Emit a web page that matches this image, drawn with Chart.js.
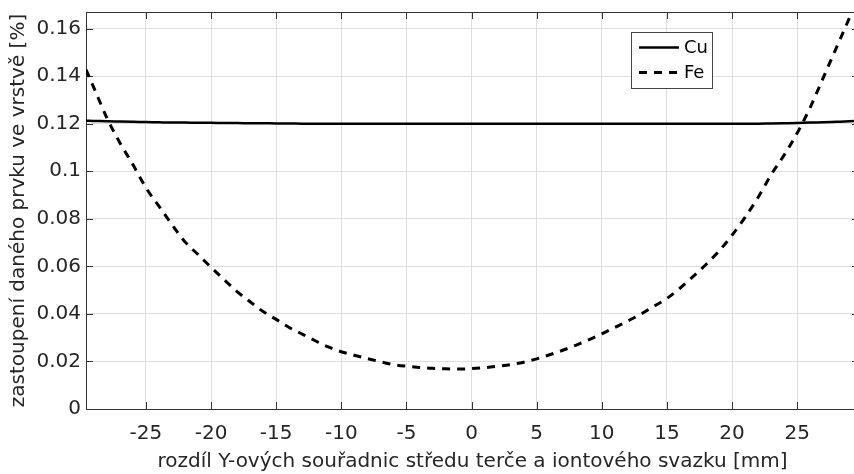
<!DOCTYPE html>
<html>
<head>
<meta charset="utf-8">
<script src="https://cdn.jsdelivr.net/npm/chart.js@4/dist/chart.umd.min.js"></script>
<style>
  html, body { margin: 0; padding: 0; background: #fff; overflow: hidden; }
  #wrap { width: 860px; height: 474px; }
</style>
</head>
<body>
<div id="wrap"><canvas id="c" width="860" height="474"></canvas></div>
<script>
// Offset of the target centre from the ion beam centre along Y [mm]
const offsets = [-29.6, -29, -28, -27, -26, -25, -24, -23, -22, -21, -20, -19, -18, -17, -16, -15,
  -14, -13, -12, -11, -10, -9, -8, -7, -6, -5, -4, -3, -2, -1, 0, 1, 2, 3, 4, 5, 6, 7, 8, 9,
  10, 11, 12, 13, 14, 15, 16, 17, 18, 19, 20, 21, 22, 23, 24, 25, 26, 27, 28, 29, 29.75];

// Share of copper in the deposited layer [%]
const cuShare = [0.1213, 0.1212, 0.1210, 0.1209, 0.1208, 0.1207, 0.1206, 0.1205, 0.1205, 0.1204,
  0.1204, 0.1203, 0.1203, 0.1202, 0.1202, 0.1201, 0.1201, 0.1200, 0.1200, 0.1200,
  0.1200, 0.1200, 0.1200, 0.1200, 0.1200, 0.1200, 0.1200, 0.1200, 0.1200, 0.1200,
  0.1200, 0.1200, 0.1200, 0.1200, 0.1200, 0.1200, 0.1200, 0.1200, 0.1200, 0.1200,
  0.1200, 0.1200, 0.1200, 0.1200, 0.1200, 0.1200, 0.1200, 0.1200, 0.1200, 0.1200,
  0.1200, 0.1200, 0.1200, 0.1201, 0.1202, 0.1203, 0.1205, 0.1206, 0.1208, 0.1210, 0.1212];

// Share of iron in the deposited layer [%]
const feShare = [0.1428, 0.1352, 0.1225, 0.1120, 0.1028, 0.0931, 0.0853, 0.0776, 0.0703, 0.0650,
  0.0596, 0.0544, 0.0494, 0.0451, 0.0410, 0.0377, 0.0343, 0.0315, 0.0287, 0.0261,
  0.0241, 0.0226, 0.0212, 0.0199, 0.0187, 0.0180, 0.0175, 0.0171, 0.0169, 0.0168,
  0.0170, 0.0174, 0.0180, 0.0187, 0.0197, 0.0211, 0.0228, 0.0247, 0.0268, 0.0291,
  0.0316, 0.0343, 0.0370, 0.0399, 0.0432, 0.0465, 0.0508, 0.0557, 0.0608, 0.0664,
  0.0731, 0.0806, 0.0890, 0.0985, 0.1068, 0.1160, 0.1268, 0.1393, 0.1518, 0.1643, 0.1740];

const xTicks = [-25, -20, -15, -10, -5, 0, 5, 10, 15, 20, 25];
const yTicks = [0, 0.02, 0.04, 0.06, 0.08, 0.1, 0.12, 0.14, 0.16];

const seriesNames = ['Cu', 'Fe'];
const xTitle = 'rozdíl Y-ových souřadnic středu terče a iontového svazku [mm]';
const yTitle = 'zastoupení daného prvku ve vrstvě [%]';

const FONT = 'DejaVu Sans';
const INK = '#262626';
const AXIS = '#333333';
const GRID = '#dfdfdf';

// Box round the plot (top and right edges) plus inward tick marks on all four sides
const frame = {
  id: 'frame',
  beforeDatasetsDraw(chart) {
    const { ctx, chartArea: a, scales } = chart;
    const t = 7;
    ctx.save();
    ctx.strokeStyle = AXIS;
    ctx.lineWidth = 1;
    ctx.beginPath();
    ctx.moveTo(a.left, Math.round(a.top) + 0.5);
    ctx.lineTo(a.right, Math.round(a.top) + 0.5);
    ctx.moveTo(Math.round(a.right) - 0.5, a.top);
    ctx.lineTo(Math.round(a.right) - 0.5, a.bottom);
    xTicks.forEach(v => {
      const px = Math.round(scales.x.getPixelForValue(v)) + 0.5;
      ctx.moveTo(px, a.bottom); ctx.lineTo(px, a.bottom - t);
      ctx.moveTo(px, a.top); ctx.lineTo(px, a.top + t);
    });
    yTicks.forEach(v => {
      const py = Math.round(scales.y.getPixelForValue(v)) + 0.5;
      ctx.moveTo(a.left, py); ctx.lineTo(a.left + t, py);
      ctx.moveTo(a.right, py); ctx.lineTo(a.right - t, py);
    });
    ctx.stroke();
    ctx.restore();
  }
};

// Boxed legend in the upper right part of the plot
const boxLegend = {
  id: 'boxLegend',
  afterDraw(chart) {
    const { ctx, chartArea: a } = chart;
    const bx = a.left + 545, by = a.top + 20, bw = 81, bh = 56;
    ctx.save();
    ctx.fillStyle = '#fff';
    ctx.fillRect(bx, by, bw, bh);
    ctx.strokeStyle = '#444';
    ctx.lineWidth = 1;
    ctx.strokeRect(bx + 0.5, by + 0.5, bw, bh);
    chart.data.datasets.forEach((ds, i) => {
      const yy = by + 15.5 + i * 25;
      ctx.beginPath();
      ctx.strokeStyle = ds.borderColor;
      ctx.lineWidth = ds.borderWidth;
      ctx.setLineDash(ds.legendDash || []);
      ctx.moveTo(bx + 8, yy);
      ctx.lineTo(bx + 48, yy);
      ctx.stroke();
      ctx.setLineDash([]);
      ctx.fillStyle = '#000';
      ctx.font = '18px "' + FONT + '"';
      ctx.textBaseline = 'middle';
      ctx.textAlign = 'left';
      ctx.fillText(ds.label, bx + 53, yy + 1);
    });
    ctx.restore();
  }
};

new Chart(document.getElementById('c'), {
  type: 'line',
  data: {
    labels: offsets,
    datasets: [
      {
        label: seriesNames[0],
        data: offsets.map((x, i) => ({ x, y: cuShare[i] })),
        borderColor: '#000',
        borderWidth: 2.5,
        pointRadius: 0,
        cubicInterpolationMode: 'monotone'
      },
      {
        label: seriesNames[1],
        data: offsets.map((x, i) => ({ x, y: feShare[i] })),
        borderColor: '#000',
        borderWidth: 3,
        borderDash: [8, 7],
        legendDash: [8, 7],
        pointRadius: 0,
        cubicInterpolationMode: 'monotone'
      }
    ]
  },
  options: {
    responsive: false,
    animation: false,
    devicePixelRatio: 1,
    layout: { padding: { top: 12, left: 0, right: 1, bottom: 0 } },
    plugins: { legend: { display: false }, tooltip: { enabled: false } },
    scales: {
      x: {
        type: 'linear',
        min: -29.6,
        max: 29.75,
        afterBuildTicks: s => { s.ticks = xTicks.map(v => ({ value: v })); },
        afterFit: s => { s.height = 65; s.paddingLeft = 0; s.paddingRight = 0; },
        ticks: {
          includeBounds: false,
          autoSkip: false,
          maxRotation: 0,
          padding: 13,
          color: INK,
          font: { family: FONT, size: 20 },
          callback: v => String(v)
        },
        grid: { color: GRID, lineWidth: 1, drawTicks: false },
        border: { color: AXIS, width: 1 },
        title: {
          display: true,
          text: xTitle,
          color: INK,
          font: { family: FONT, size: 20 },
          padding: { top: 0, bottom: 0 }
        }
      },
      y: {
        type: 'linear',
        min: 0,
        max: 0.167,
        afterBuildTicks: s => { s.ticks = yTicks.map(v => ({ value: v })); },
        afterFit: s => { s.width = 86; s.paddingTop = 0; s.paddingBottom = 0; },
        ticks: {
          includeBounds: false,
          autoSkip: false,
          padding: 5,
          color: INK,
          font: { family: FONT, size: 20 },
          callback: v => String(Number(v.toFixed(2)))
        },
        grid: { color: GRID, lineWidth: 1, drawTicks: false },
        border: { color: AXIS, width: 1 },
        title: {
          display: true,
          text: yTitle,
          color: INK,
          font: { family: FONT, size: 20 },
          padding: { top: 7, bottom: 0 }
        }
      }
    }
  },
  plugins: [frame, boxLegend]
});
</script>
</body>
</html>
